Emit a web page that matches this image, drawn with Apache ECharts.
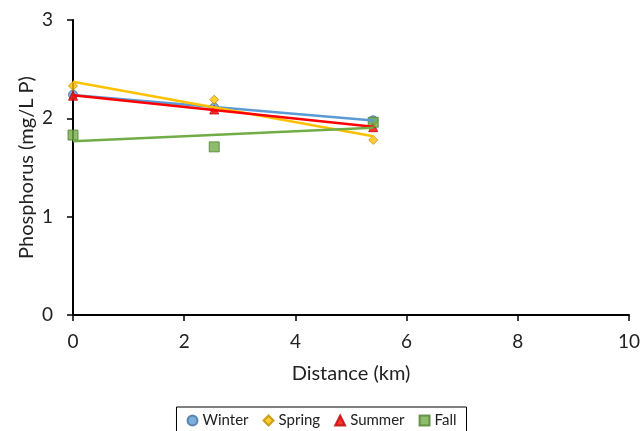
<!DOCTYPE html>
<html><head><meta charset="utf-8">
<script src="https://cdn.jsdelivr.net/npm/echarts@6/dist/echarts.min.js"></script>
<style>html,body{margin:0;padding:0;background:#fff}#c{width:643px;height:431px}</style>
</head><body><div id="c"></div>
<script>
const distances = [0, 2.54, 5.4];
const winter = [2.24, 2.11, 1.98];
const spring = [2.33, 2.19, 1.78];
const summer = [2.23, 2.09, 1.91];
const fall = [1.83, 1.71, 1.96];
const seriesNames = ['Winter', 'Spring', 'Summer', 'Fall'];
const xTicks = [0, 2, 4, 6, 8, 10];
const yTicks = [0, 1, 2, 3];

const colors = ['#5B9BD5', '#FFC000', '#FF0000', '#70AD47'];
const borders = ['#41719C', '#BC8C00', '#BE0000', '#507E32'];
const symbols = ['circle', 'diamond', 'triangle', 'rect'];
const sizes = [9, 9, 9, 10];
const data = [winter, spring, summer, fall];

function trend(xs, ys) {
  const n = xs.length;
  const mx = xs.reduce((a, b) => a + b, 0) / n;
  const my = ys.reduce((a, b) => a + b, 0) / n;
  let sxy = 0, sxx = 0;
  for (let i = 0; i < n; i++) { sxy += (xs[i] - mx) * (ys[i] - my); sxx += (xs[i] - mx) ** 2; }
  const b = sxy / sxx, a = my - b * mx;
  const x0 = Math.min(...xs), x1 = Math.max(...xs);
  return [[x0, a + b * x0], [x1, a + b * x1]];
}

const series = [];
data.forEach((ys, i) => {
  series.push({
    name: seriesNames[i], type: 'scatter', symbol: symbols[i], symbolSize: sizes[i], z: 2,
    itemStyle: { color: colors[i], borderColor: borders[i], borderWidth: 1 },
    data: distances.map((x, j) => [x, ys[j]])
  });
});
data.forEach((ys, i) => {
  series.push({
    name: seriesNames[i] + ' trend', type: 'line', showSymbol: false, silent: true, z: 3,
    lineStyle: { color: colors[i], width: 2.5 },
    data: trend(distances, ys)
  });
});

const font = 'Lato, "Open Sans", sans-serif';
const chart = echarts.init(document.getElementById('c'));
chart.setOption({
  animation: false,
  grid: { left: 73, right: 14, top: 20, bottom: 116 },
  legend: {
    data: seriesNames.map((n, i) => ({ name: n, icon: symbols[i] })),
    top: 407, left: 'center', itemWidth: 10, itemHeight: 10, itemGap: 14,
    borderColor: '#000', borderWidth: 1, padding: [6, 10, 10, 10],
    textStyle: { fontFamily: font, fontSize: 15, color: '#222' }
  },
  xAxis: {
    type: 'value', min: xTicks[0], max: xTicks[xTicks.length - 1], interval: 2,
    name: 'Distance (km)', nameLocation: 'middle', nameGap: 49, nameMoveOverlap: false,
    nameTextStyle: { fontFamily: font, fontSize: 20, color: '#222' },
    axisLine: { lineStyle: { color: '#000', width: 2 } },
    axisTick: { show: true, length: 6, lineStyle: { color: '#000', width: 1.5 } },
    axisLabel: { fontFamily: font, fontSize: 19, color: '#222', margin: 17 },
    splitLine: { show: false }
  },
  yAxis: {
    type: 'value', min: yTicks[0], max: yTicks[yTicks.length - 1], interval: 1,
    name: 'Phosphorus (mg/L P)', nameLocation: 'middle', nameGap: 36, nameMoveOverlap: false,
    nameTextStyle: { fontFamily: font, fontSize: 20, color: '#222' },
    axisLine: { show: true, lineStyle: { color: '#000', width: 2 } },
    axisTick: { show: true, length: 6, lineStyle: { color: '#000', width: 1.5 } },
    axisLabel: { fontFamily: font, fontSize: 19, color: '#222', margin: 20 },
    splitLine: { show: false }
  },
  series: series
});
</script></body></html>
